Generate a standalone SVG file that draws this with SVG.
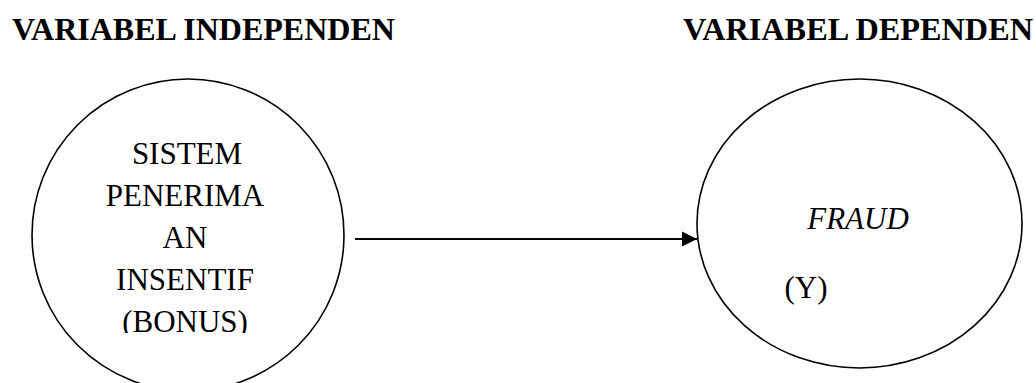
<svg xmlns="http://www.w3.org/2000/svg" width="1036" height="383" viewBox="0 0 1036 383">
<style>
.h{font-family:"Liberation Serif","Times New Roman",serif;font-weight:bold;font-size:31px;fill:#000}
.t{font-family:"Liberation Serif","Times New Roman",serif;font-size:31px;fill:#000}
.i{font-style:italic}
.shape{fill:#fff;stroke:#000;stroke-width:1.6}
.conn{stroke:#000;stroke-width:2.2;fill:none}
</style>
<defs>
<marker id="arr" markerWidth="8" markerHeight="8" refX="7" refY="3.5" orient="auto" markerUnits="strokeWidth">
<path d="M0,0 L7,3.5 L0,7 Z" fill="#000"/>
</marker>
<clipPath id="clipL"><rect x="0" y="0" width="1036" height="333"/></clipPath>
</defs>
<rect width="1036" height="383" fill="#fff"/>
<g id="heading-independen"><text class="h" x="12" y="39.5" textLength="383" lengthAdjust="spacingAndGlyphs">VARIABEL INDEPENDEN</text></g>
<g id="heading-dependen"><text class="h" x="683" y="39.5" textLength="350" lengthAdjust="spacingAndGlyphs">VARIABEL DEPENDEN</text></g>
<g id="node-x">
<ellipse class="shape" cx="188" cy="235" rx="156" ry="156"/>
<text class="t" text-anchor="middle" x="187" y="164">SISTEM</text>
<text class="t" text-anchor="middle" x="185" y="206">PENERIMA</text>
<text class="t" text-anchor="middle" x="185" y="248">AN</text>
<text class="t" text-anchor="middle" x="185" y="290">INSENTIF</text>
<text class="t" text-anchor="middle" x="185" y="332" clip-path="url(#clipL)">(BONUS)</text>
</g>
<g id="node-y">
<ellipse class="shape" cx="859.5" cy="223.5" rx="162.5" ry="144.5"/>
<text class="t i" text-anchor="middle" x="858" y="229">FRAUD</text>
<text class="t" text-anchor="middle" x="806" y="298">(Y)</text>
</g>
<g id="connectors">
<line class="conn" x1="355" y1="239" x2="697" y2="239" marker-end="url(#arr)"/>
</g>
</svg>
